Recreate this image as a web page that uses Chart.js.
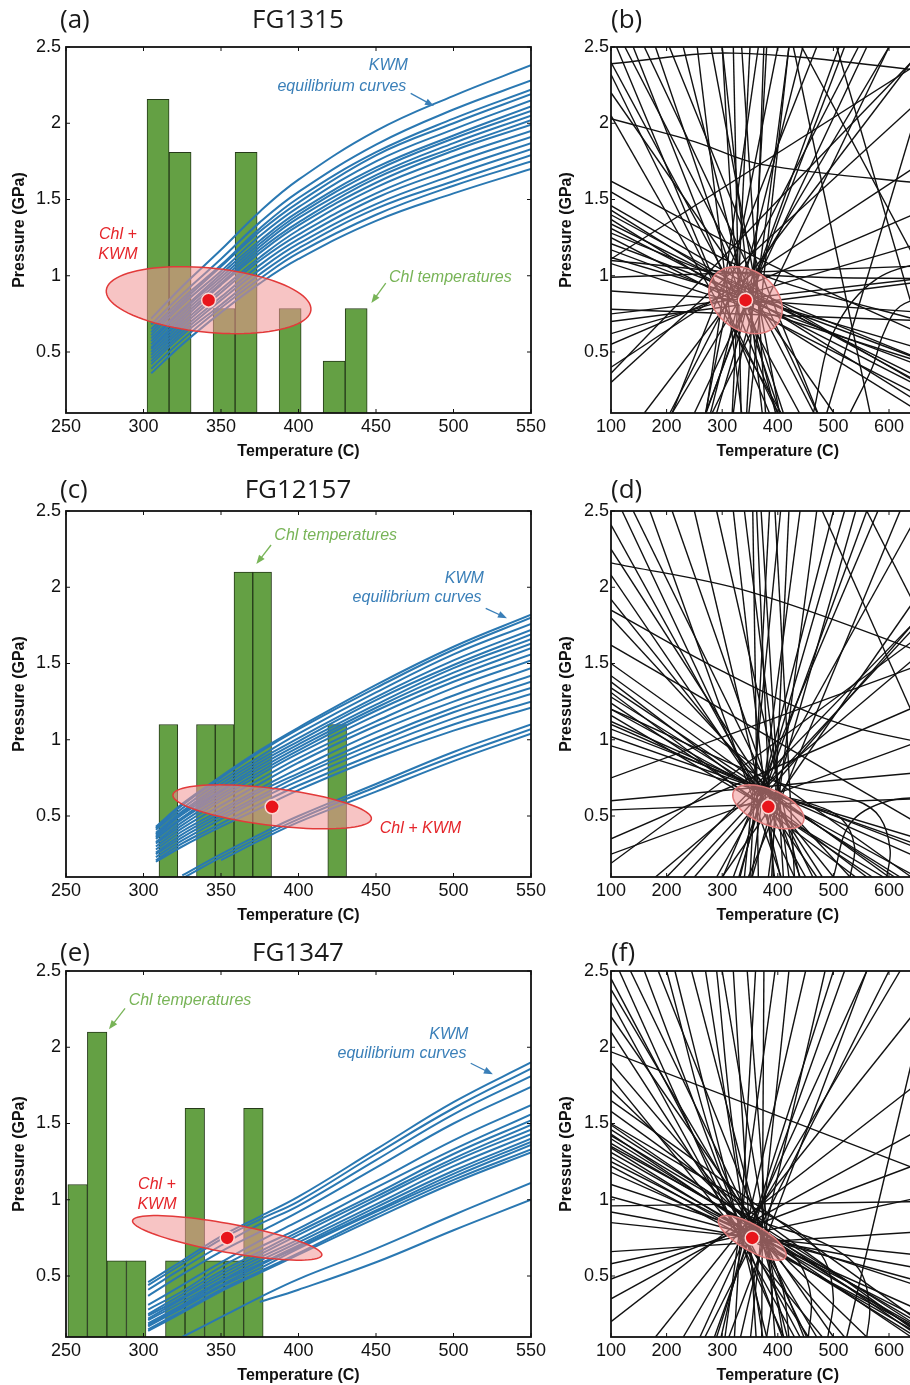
<!DOCTYPE html>
<html>
<head>
<meta charset="utf-8">
<script src="https://cdn.jsdelivr.net/npm/chart.js@4.4.1/dist/chart.umd.min.js"></script>
<style>
html, body { margin: 0; padding: 0; background: #fff; overflow: hidden; }
#page { position: relative; width: 910px; height: 1385px; overflow: hidden; background: #fff; }
#page canvas { position: absolute; }
.ttl { position: absolute; font-family: "Open Sans", "Noto Sans", sans-serif; font-size: 26px; color: #1a1a1a; line-height: 1; white-space: nowrap; }
</style>
</head>
<body>
<div id="page"></div>
<script>
// ---- axes ----
const pTicks = [0.5, 1, 1.5, 2, 2.5];
const tTicksHist = [250, 300, 350, 400, 450, 500, 550];
const tTicksLines = [100, 200, 300, 400, 500, 600, 700];

// ---- Chl temperature histograms (bin centre, bar top) ----
const chlBinsA = [309.4, 323.6, 352.0, 366.2, 394.6, 423.0, 437.2];
const chlTopsA = [2.157, 1.81, 0.785, 1.81, 0.785, 0.44, 0.785];
const chlBinsC = [316.05, 340.25, 352.35, 364.45, 376.55, 424.95];
const chlTopsC = [1.1, 1.1, 1.1, 2.1, 2.1, 1.1];
const chlBinsE = [257.5, 270.1, 282.7, 295.3, 320.5, 333.1, 345.7, 358.3, 370.9];
const chlTopsE = [1.1, 2.1, 0.6, 0.6, 0.6, 1.6, 0.6, 0.6, 1.6];

// ---- KWM equilibrium curves (pressure at each temperature) ----
const kwmTempA = [305, 325, 350, 375, 400, 450, 500, 550];
const kwmCurvesA = [
  [0.72, 0.93, 1.17, 1.42, 1.63, 1.95, 2.18, 2.38],
  [0.68, 0.88, 1.11, 1.35, 1.55, 1.86, 2.09, 2.28],
  [0.65, 0.85, 1.07, 1.31, 1.51, 1.81, 2.03, 2.22],
  [0.63, 0.83, 1.06, 1.29, 1.48, 1.79, 2.00, 2.19],
  [0.61, 0.81, 1.03, 1.26, 1.45, 1.75, 1.96, 2.15],
  [0.59, 0.78, 1.01, 1.23, 1.42, 1.71, 1.92, 2.11],
  [0.57, 0.77, 0.99, 1.21, 1.40, 1.69, 1.90, 2.08],
  [0.55, 0.75, 0.97, 1.19, 1.38, 1.66, 1.87, 2.05],
  [0.53, 0.73, 0.95, 1.17, 1.35, 1.64, 1.84, 2.02],
  [0.52, 0.71, 0.94, 1.15, 1.33, 1.61, 1.82, 1.99],
  [0.50, 0.69, 0.91, 1.12, 1.30, 1.58, 1.78, 1.95],
  [0.48, 0.67, 0.89, 1.10, 1.27, 1.54, 1.74, 1.91],
  [0.46, 0.65, 0.86, 1.07, 1.24, 1.51, 1.70, 1.87],
  [0.44, 0.63, 0.84, 1.04, 1.21, 1.47, 1.66, 1.83],
  [0.42, 0.61, 0.81, 1.01, 1.18, 1.44, 1.62, 1.79],
  [0.39, 0.58, 0.79, 0.98, 1.15, 1.40, 1.59, 1.75],
  [0.36, 0.55, 0.76, 0.95, 1.11, 1.36, 1.54, 1.70]
];
const kwmTempC = [308, 325, 350, 375, 400, 450, 500, 550];
const kwmCurvesC = [
  [0.43, 0.58, 0.76, 0.93, 1.08, 1.36, 1.61, 1.82],
  [0.42, 0.57, 0.75, 0.92, 1.07, 1.34, 1.59, 1.80],
  [0.41, 0.55, 0.73, 0.89, 1.04, 1.31, 1.56, 1.76],
  [0.39, 0.53, 0.71, 0.87, 1.01, 1.28, 1.52, 1.72],
  [0.38, 0.52, 0.69, 0.85, 0.99, 1.26, 1.49, 1.69],
  [0.37, 0.51, 0.67, 0.83, 0.97, 1.23, 1.47, 1.66],
  [0.36, 0.49, 0.66, 0.81, 0.95, 1.21, 1.44, 1.63],
  [0.35, 0.48, 0.64, 0.79, 0.93, 1.19, 1.41, 1.60],
  [0.33, 0.46, 0.62, 0.77, 0.91, 1.16, 1.38, 1.56],
  [0.32, 0.44, 0.60, 0.74, 0.88, 1.12, 1.34, 1.52],
  [0.30, 0.42, 0.57, 0.71, 0.85, 1.09, 1.29, 1.47],
  [0.28, 0.40, 0.54, 0.68, 0.81, 1.05, 1.25, 1.42],
  [0.26, 0.38, 0.52, 0.66, 0.78, 1.01, 1.21, 1.38],
  [0.25, 0.36, 0.50, 0.63, 0.76, 0.98, 1.18, 1.34],
  [0.23, 0.34, 0.48, 0.61, 0.73, 0.95, 1.14, 1.30],
  [0.21, 0.32, 0.45, 0.58, 0.70, 0.91, 1.10, 1.25],
  [0.20, 0.30, 0.43, 0.55, 0.67, 0.88, 1.06, 1.21],
  [null, 0.11, 0.25, 0.38, 0.50, 0.71, 0.92, 1.10],
  [null, 0.09, 0.23, 0.36, 0.48, 0.69, 0.89, 1.07],
  [null, null, 0.21, 0.34, 0.46, 0.66, 0.86, 1.04]
];
const kwmTempE = [303, 325, 350, 375, 400, 450, 500, 550];
const kwmCurvesE = [
  [0.46, 0.60, 0.76, 0.89, 1.02, 1.33, 1.64, 1.90],
  [0.44, 0.58, 0.74, 0.87, 0.99, 1.30, 1.60, 1.86],
  [0.41, 0.55, 0.70, 0.84, 0.96, 1.26, 1.56, 1.81],
  [0.37, 0.51, 0.66, 0.79, 0.92, 1.21, 1.50, 1.74],
  [0.31, 0.44, 0.59, 0.73, 0.86, 1.12, 1.39, 1.62],
  [0.28, 0.40, 0.56, 0.69, 0.81, 1.08, 1.33, 1.56],
  [0.25, 0.38, 0.53, 0.66, 0.79, 1.04, 1.30, 1.52],
  [0.24, 0.36, 0.51, 0.64, 0.77, 1.02, 1.27, 1.49],
  [0.22, 0.35, 0.49, 0.62, 0.74, 1.00, 1.25, 1.46],
  [0.21, 0.33, 0.47, 0.60, 0.72, 0.97, 1.22, 1.43],
  [0.19, 0.31, 0.46, 0.58, 0.70, 0.95, 1.19, 1.40],
  [0.18, 0.30, 0.44, 0.57, 0.69, 0.93, 1.17, 1.38],
  [0.17, 0.29, 0.43, 0.55, 0.68, 0.92, 1.15, 1.36],
  [0.15, 0.27, 0.41, 0.53, 0.65, 0.90, 1.13, 1.33],
  [0.14, 0.26, 0.40, 0.52, 0.64, 0.88, 1.11, 1.31],
  [null, 0.10, 0.23, 0.36, 0.48, 0.68, 0.90, 1.11],
  [null, null, null, 0.33, 0.41, 0.59, 0.80, 1.00]
];

// ---- Chl + KWM result: centre, end of long axis, end of short axis ----
const ellipseA = [[342, 0.84], [408, 0.775], [344, 1.05]];
const ellipseC = [[383, 0.56], [447, 0.48], [385, 0.68]];
const ellipseE = [[354, 0.75], [415, 0.635], [357, 0.84]];

// ---- individual equilibria (T, P pairs along each line) ----
const linesB = [
  [100,2.39, 320,2.46, 700,2.33],
  [100,2.03, 250,1.88, 370,1.73, 700,1.59],
  [100,1.46, 700,0.195],
  [100,1.43, 700,0.065],
  [100,1.40, 700,0.21],
  [100,1.37, 700,0.005],
  [100,1.34, 700,0.25],
  [100,1.31, 700,0.19],
  [100,1.28, 700,0.39],
  [100,1.25, 700,0.13],
  [100,1.21, 700,0.39],
  [100,1.17, 700,0.35],
  [100,1.12, 700,0.475],
  [100,1.08, 700,0.385],
  [100,1.62, 400,1.05, 700,0.55],
  [100,1.55, 340,1.05, 700,0.66],
  [100,0.99, 700,1.07],
  [100,1.10, 400,1.00, 700,0.98],
  [100,0.78, 700,0.70],
  [100,0.90, 700,0.75],
  [100,0.75, 700,1.00],
  [100,2.40, 439,0.10],
  [100,2.32, 400,0.10],
  [100,2.20, 501,0.10],
  [100,2.05, 406,0.10],
  [110,2.50, 385,0.10],
  [125,2.50, 465,0.10],
  [140,2.50, 400,0.10],
  [160,2.50, 471,0.10],
  [180,2.50, 404,0.10],
  [205,2.50, 472,0.10],
  [230,2.50, 396,0.10],
  [255,2.50, 335,0.10],
  [280,2.50, 403,0.10],
  [300,2.50, 372,0.10],
  [320,2.50, 334,0.10],
  [335,2.50, 378,0.10],
  [350,2.50, 318,0.10],
  [365,2.50, 271,0.10],
  [380,2.50, 344,0.10],
  [400,2.50, 270,0.10],
  [420,2.50, 348,0.10],
  [445,2.50, 279,0.10],
  [470,2.50, 210,0.10],
  [510,2.50, 271,0.10],
  [545,2.50, 206,0.10],
  [600,2.50, 282,0.10],
  [160,0.10, 640,2.40],
  [210,0.10, 600,2.50],
  [250,0.10, 560,2.50],
  [270,0.10, 520,2.50],
  [100,0.30, 700,2.30],
  [100,0.40, 700,1.84],
  [100,0.55, 700,1.49],
  [100,0.62, 700,1.26],
  [100,0.70, 700,0.98],
  [100,0.36, 640,2.40],
  [100,1.11, 700,2.50],
  [290,0.10, 330,0.60, 350,0.90, 362,1.30, 375,2.50],
  [410,0.10, 370,0.55, 332,0.95, 318,1.40, 300,2.50],
  [320,0.10, 335,0.50, 356,0.80, 384,1.50, 420,2.50],
  [464,0.10, 500,0.63, 578,0.98, 700,1.12],
  [530,0.10, 570,0.40, 590,0.62, 620,0.80, 700,0.90],
  [443,2.50, 700,0.75],
  [488,0.10, 685,2.50],
  [506,2.50, 697,0.10],
  [428,2.50, 566,0.10]
];
const linesD = [
  [100,2.16, 350,1.97, 700,1.52],
  [100,1.42, 600,0.10],
  [100,1.38, 560,0.10],
  [100,1.34, 610,0.10],
  [100,1.31, 540,0.10],
  [100,1.28, 620,0.10],
  [100,1.24, 570,0.10],
  [100,1.20, 650,0.10],
  [100,1.16, 590,0.10],
  [100,1.12, 700,0.15],
  [100,1.07, 700,0.22],
  [100,1.02, 700,0.25],
  [100,0.96, 700,0.30],
  [100,1.62, 700,0.35],
  [100,1.50, 640,0.10],
  [100,1.92, 500,0.10],
  [100,2.08, 470,0.10],
  [100,2.25, 480,0.10],
  [100,2.41, 450,0.10],
  [100,1.80, 530,0.10],
  [120,2.50, 430,0.10],
  [140,2.50, 463,0.10],
  [170,2.50, 406,0.10],
  [210,2.50, 440,0.10],
  [250,2.50, 405,0.10],
  [290,2.50, 439,0.10],
  [320,2.50, 394,0.10],
  [340,2.50, 420,0.10],
  [355,2.50, 365,0.10],
  [370,2.50, 410,0.10],
  [385,2.50, 350,0.10],
  [395,2.50, 430,0.10],
  [405,2.50, 340,0.10],
  [362,2.50, 380,1.00, 392,0.10],
  [420,2.50, 389,0.10],
  [440,2.50, 353,0.10],
  [470,2.50, 383,0.10],
  [500,2.50, 332,0.10],
  [540,2.50, 354,0.10],
  [580,2.50, 301,0.10],
  [620,2.50, 347,0.10],
  [700,2.20, 300,0.10],
  [200,0.10, 640,1.75],
  [250,0.10, 700,2.00],
  [290,0.10, 640,2.40],
  [320,0.10, 560,2.50],
  [330,0.10, 520,2.50],
  [230,0.10, 700,1.95],
  [180,0.10, 700,1.70],
  [100,0.19, 700,1.80],
  [100,0.35, 700,1.30],
  [100,0.25, 700,1.05],
  [100,0.54, 700,0.62],
  [100,0.60, 700,0.80],
  [100,0.75, 700,1.55],
  [480,2.50, 700,0.70],
  [560,2.50, 700,1.50],
  [100,1.85, 300,1.45, 500,1.12, 700,0.95],
  [500,0.10, 530,0.45, 600,0.60, 700,0.62],
  [596,0.10, 602,0.28, 584,0.49, 542,0.60, 400,0.72, 100,1.20],
  [530,0.10, 538,0.30, 515,0.48, 460,0.58, 380,0.66, 100,1.10]
];
const linesF = [
  [100,1.97, 700,1.13],
  [100,0.96, 700,0.99],
  [100,1.49, 640,0.14],
  [100,1.46, 640,0.20],
  [100,1.43, 640,0.10],
  [100,1.40, 640,0.17],
  [100,1.37, 640,0.22],
  [100,1.34, 640,0.12],
  [100,1.31, 640,0.19],
  [100,1.28, 640,0.15],
  [100,1.25, 640,0.25],
  [100,1.22, 640,0.18],
  [100,1.18, 640,0.30],
  [100,1.58, 640,0.16],
  [100,1.65, 640,0.24],
  [100,1.10, 640,0.45],
  [100,2.45, 440,0.10],
  [100,2.38, 470,0.10],
  [100,2.30, 430,0.10],
  [100,2.20, 500,0.10],
  [100,2.10, 455,0.10],
  [100,1.90, 520,0.10],
  [100,1.80, 480,0.10],
  [100,1.72, 560,0.10],
  [115,2.50, 411,0.10],
  [135,2.50, 452,0.10],
  [160,2.50, 408,0.10],
  [185,2.50, 447,0.10],
  [215,2.50, 380,0.10],
  [245,2.50, 417,0.10],
  [270,2.50, 373,0.10],
  [300,2.50, 410,0.10],
  [320,2.50, 361,0.10],
  [345,2.50, 395,0.10],
  [360,2.50, 322,0.10],
  [375,2.50, 371,0.10],
  [395,2.50, 305,0.10],
  [420,2.50, 351,0.10],
  [450,2.50, 298,0.10],
  [485,2.50, 333,0.10],
  [520,2.50, 286,0.10],
  [560,2.50, 312,0.10],
  [600,2.50, 269,0.10],
  [100,0.20, 700,1.90],
  [100,0.35, 700,1.55],
  [100,0.48, 700,1.30],
  [100,0.58, 700,1.05],
  [100,0.66, 700,0.80],
  [180,0.10, 640,2.20],
  [230,0.10, 620,2.50],
  [260,0.10, 560,2.50],
  [290,0.10, 500,2.50],
  [524,0.10, 660,2.20],
  [100,0.85, 700,0.62],
  [100,0.92, 700,0.52],
  [100,1.02, 700,0.42],
  [490,0.10, 500,0.35, 485,0.60, 440,0.78, 356,0.95, 100,1.50],
  [455,0.10, 460,0.35, 440,0.58, 400,0.72, 300,0.95, 100,1.35],
  [560,0.10, 565,0.30, 545,0.55, 480,0.72, 356,0.88, 100,1.42],
  [380,0.10, 390,0.40, 372,0.80, 330,1.20, 290,2.50],
  [420,0.10, 410,0.40, 380,0.70, 300,1.20, 200,2.50]
];

// ---- annotations (text, T, P, colour) and arrows (from T,P to T,P) ----
const notesA = [['KWM', 458, 2.38, 'blue'], ['equilibrium curves', 428, 2.24, 'blue'],
  ['Chl +', 283.5, 1.27, 'red'], ['KWM', 283.5, 1.14, 'red'], ['Chl temperatures', 498, 0.99, 'green']];
const arrowsA = [[472.4, 2.196, 487.4, 2.113, 'blue'], [456.3, 0.952, 447.0, 0.821, 'green']];
const notesC = [['Chl temperatures', 424, 2.336, 'green'], ['KWM', 507, 2.06, 'blue'],
  ['equilibrium curves', 476.5, 1.932, 'blue'], ['Chl + KWM', 478.7, 0.421, 'red']];
const arrowsC = [[382.3, 2.277, 372.8, 2.152, 'green'], [520.8, 1.862, 534.5, 1.797, 'blue']];
const notesE = [['Chl temperatures', 330, 2.303, 'green'], ['KWM', 497, 2.085, 'blue'],
  ['equilibrium curves', 466.8, 1.961, 'blue'], ['Chl +', 308.7, 1.097, 'red'], ['KWM', 308.7, 0.966, 'red']];
const arrowsE = [[288.1, 2.255, 277.7, 2.118, 'green'], [511.1, 1.895, 525.4, 1.823, 'blue']];

const noteColors = { blue: '#3a7fb8', green: '#78b457', red: '#e5262b' };

Chart.defaults.font.family = '"Liberation Sans", Arial, sans-serif';
Chart.defaults.color = '#111';

const page = document.getElementById('page');

function addCanvas(left, top, w, h) {
  const c = document.createElement('canvas');
  c.width = w; c.height = h;
  c.style.left = left + 'px'; c.style.top = top + 'px';
  c.style.width = w + 'px'; c.style.height = h + 'px';
  page.appendChild(c);
  return c;
}

function addText(text, x, y, centred) {
  const d = document.createElement('div');
  d.className = 'ttl';
  d.textContent = text;
  d.style.left = x + 'px'; d.style.top = y + 'px';
  d.style.transform = centred ? 'translate(-50%,-50%)' : 'translate(0,-50%)';
  page.appendChild(d);
}

function drawFrame(chart) {
  const { ctx, chartArea: a, scales: { x, y } } = chart;
  ctx.save();
  ctx.strokeStyle = '#111';
  ctx.lineWidth = 1;
  ctx.beginPath();
  x.ticks.forEach(t => {
    const p = x.getPixelForValue(t.value);
    ctx.moveTo(p, a.bottom); ctx.lineTo(p, a.bottom - 4);
    ctx.moveTo(p, a.top); ctx.lineTo(p, a.top + 4);
  });
  y.ticks.forEach(t => {
    const p = y.getPixelForValue(t.value);
    ctx.moveTo(a.left, p); ctx.lineTo(a.left + 4, p);
    ctx.moveTo(a.right, p); ctx.lineTo(a.right - 4, p);
  });
  ctx.stroke();
  ctx.lineWidth = 1.8;
  ctx.strokeRect(a.left, a.top, a.right - a.left, a.bottom - a.top);
  ctx.restore();
}

function drawEllipse(chart, e, ring) {
  const { ctx, scales: { x, y } } = chart;
  const cx = x.getPixelForValue(e[0][0]), cy = y.getPixelForValue(e[0][1]);
  const ax = x.getPixelForValue(e[1][0]) - cx, ay = y.getPixelForValue(e[1][1]) - cy;
  const bx = x.getPixelForValue(e[2][0]) - cx, by = y.getPixelForValue(e[2][1]) - cy;
  ctx.save();
  ctx.beginPath();
  for (let i = 0; i <= 90; i++) {
    const t = i / 90 * Math.PI * 2;
    const px = cx + ax * Math.cos(t) + bx * Math.sin(t);
    const py = cy + ay * Math.cos(t) + by * Math.sin(t);
    if (i === 0) ctx.moveTo(px, py); else ctx.lineTo(px, py);
  }
  ctx.closePath();
  ctx.fillStyle = 'rgba(240,148,148,0.55)';
  ctx.fill();
  ctx.strokeStyle = ring;
  ctx.lineWidth = 1.5;
  ctx.stroke();
  ctx.restore();
}

function drawNotes(chart, notes, arrows) {
  const { ctx, scales: { x, y } } = chart;
  ctx.save();
  ctx.font = 'italic 16px "Liberation Sans", Arial, sans-serif';
  ctx.textAlign = 'center';
  ctx.textBaseline = 'middle';
  notes.forEach(([text, t, p, c]) => {
    ctx.fillStyle = noteColors[c];
    ctx.fillText(text, x.getPixelForValue(t), y.getPixelForValue(p));
  });
  arrows.forEach(([t1, p1, t2, p2, c]) => {
    const x1 = x.getPixelForValue(t1), y1 = y.getPixelForValue(p1);
    const x2 = x.getPixelForValue(t2), y2 = y.getPixelForValue(p2);
    const ang = Math.atan2(y2 - y1, x2 - x1);
    ctx.strokeStyle = ctx.fillStyle = noteColors[c];
    ctx.lineWidth = 1.3;
    ctx.beginPath();
    ctx.moveTo(x1, y1); ctx.lineTo(x2 - 4 * Math.cos(ang), y2 - 4 * Math.sin(ang));
    ctx.stroke();
    ctx.beginPath();
    ctx.moveTo(x2, y2);
    ctx.lineTo(x2 - 9 * Math.cos(ang) + 3.5 * Math.sin(ang), y2 - 9 * Math.sin(ang) - 3.5 * Math.cos(ang));
    ctx.lineTo(x2 - 9 * Math.cos(ang) - 3.5 * Math.sin(ang), y2 - 9 * Math.sin(ang) + 3.5 * Math.cos(ang));
    ctx.closePath();
    ctx.fill();
  });
  ctx.restore();
}

function overlay(ellipse, ring, notes, arrows) {
  return {
    id: 'overlay',
    beforeDatasetDraw(chart, args) {
      if (args.index === chart.data.datasets.length - 1) drawEllipse(chart, ellipse, ring);
    },
    afterDraw(chart) {
      drawFrame(chart);
      drawNotes(chart, notes, arrows);
    }
  };
}

function chartOptions(tMin, tMax, tTicks, labelPad, titlePad, rightPad) {
  return {
    responsive: false,
    animation: false,
    events: [],
    layout: { padding: { top: 17, right: rightPad, left: 0, bottom: 0 } },
    plugins: { legend: { display: false }, tooltip: { enabled: false } },
    scales: {
      x: {
        type: 'linear', min: tMin, max: tMax, offset: false,
        grid: { display: false, drawTicks: false, offset: false }, border: { display: false },
        afterBuildTicks: s => { s.ticks = tTicks.map(v => ({ value: v })); },
        afterFit: s => { s.height = 50; },
        ticks: { font: { size: 18 }, color: '#111', padding: 3, maxRotation: 0, autoSkip: false, callback: v => String(v) },
        title: { display: true, text: 'Temperature (C)', color: '#111', font: { size: 16, weight: 'bold' }, padding: { top: 0, bottom: 2 } }
      },
      y: {
        type: 'linear', min: 0.1, max: 2.5, beginAtZero: false,
        grid: { display: false, drawTicks: false }, border: { display: false },
        afterBuildTicks: s => { s.ticks = pTicks.map(v => ({ value: v })); },
        afterFit: s => { s.width = 66; },
        ticks: { font: { size: 18 }, color: '#111', padding: labelPad, autoSkip: false, callback: v => String(v) },
        title: { display: true, text: 'Pressure (GPa)', color: '#111', font: { size: 16, weight: 'bold' }, padding: { top: titlePad, bottom: 0 } }
      }
    }
  };
}

function dotDataset(e) {
  return {
    type: 'scatter', data: [{ x: e[0][0], y: e[0][1] }],
    pointRadius: 7, pointBackgroundColor: '#e8151b', pointBorderColor: '#fbd7d3', pointBorderWidth: 1.5,
    order: 0, clip: false
  };
}

function histChart(top, bins, tops, temps, curves, ellipse, notes, arrows) {
  const canvas = addCanvas(0, top - 17, 560, 433);
  const datasets = [{
    type: 'bar', data: bins.map((t, i) => ({ x: t, y: tops[i] })),
    backgroundColor: '#64a044', borderColor: '#263a1a', borderWidth: 1,
    barPercentage: 1, categoryPercentage: 1, order: 3
  }];
  curves.forEach(c => datasets.push({
    type: 'line',
    data: temps.map((t, i) => ({ x: t, y: c[i] })).filter(d => d.y !== null),
    borderColor: '#2a78b2', borderWidth: 2, pointRadius: 0, tension: 0.4, fill: false, order: 2, clip: 0
  }));
  datasets.push(dotDataset(ellipse));
  return new Chart(canvas, {
    type: 'line', data: { datasets },
    options: chartOptions(250, 550, tTicksHist, 5, 10, 29),
    plugins: [overlay(ellipse, '#e23a3a', notes, arrows)]
  });
}

function lineChart(top, lines, ellipse) {
  const canvas = addCanvas(545, top - 17, 430, 433);
  const datasets = lines.map(l => {
    const pts = [];
    for (let i = 0; i < l.length; i += 2) pts.push({ x: l[i], y: l[i + 1] });
    return {
      type: 'line', data: pts, borderColor: '#111', borderWidth: 1.4,
      pointRadius: 0, tension: pts.length > 2 ? 0.35 : 0, fill: false, order: 2, clip: 0
    };
  });
  datasets.push(dotDataset(ellipse));
  return new Chart(canvas, {
    type: 'line', data: { datasets },
    options: chartOptions(100, 700, tTicksLines, 2, 12, 30.4),
    plugins: [overlay(ellipse, '#e07a7a', [], [])]
  });
}

// rows: plot tops at 47, 511, 971
histChart(47, chlBinsA, chlTopsA, kwmTempA, kwmCurvesA, ellipseA, notesA, arrowsA);
lineChart(47, linesB, ellipseA);
histChart(511, chlBinsC, chlTopsC, kwmTempC, kwmCurvesC, ellipseC, notesC, arrowsC);
lineChart(511, linesD, ellipseC);
histChart(971, chlBinsE, chlTopsE, kwmTempE, kwmCurvesE, ellipseE, notesE, arrowsE);
lineChart(971, linesF, ellipseE);

const rowMid = [18, 488, 951];
const letters = [['(a)', '(b)'], ['(c)', '(d)'], ['(e)', '(f)']];
const sampleNames = ['FG1315', 'FG12157', 'FG1347'];
rowMid.forEach((y, i) => {
  addText(letters[i][0], 60, y, false);
  addText(sampleNames[i], 298, y, true);
  addText(letters[i][1], 611, y, false);
});
</script>
</body>
</html>
